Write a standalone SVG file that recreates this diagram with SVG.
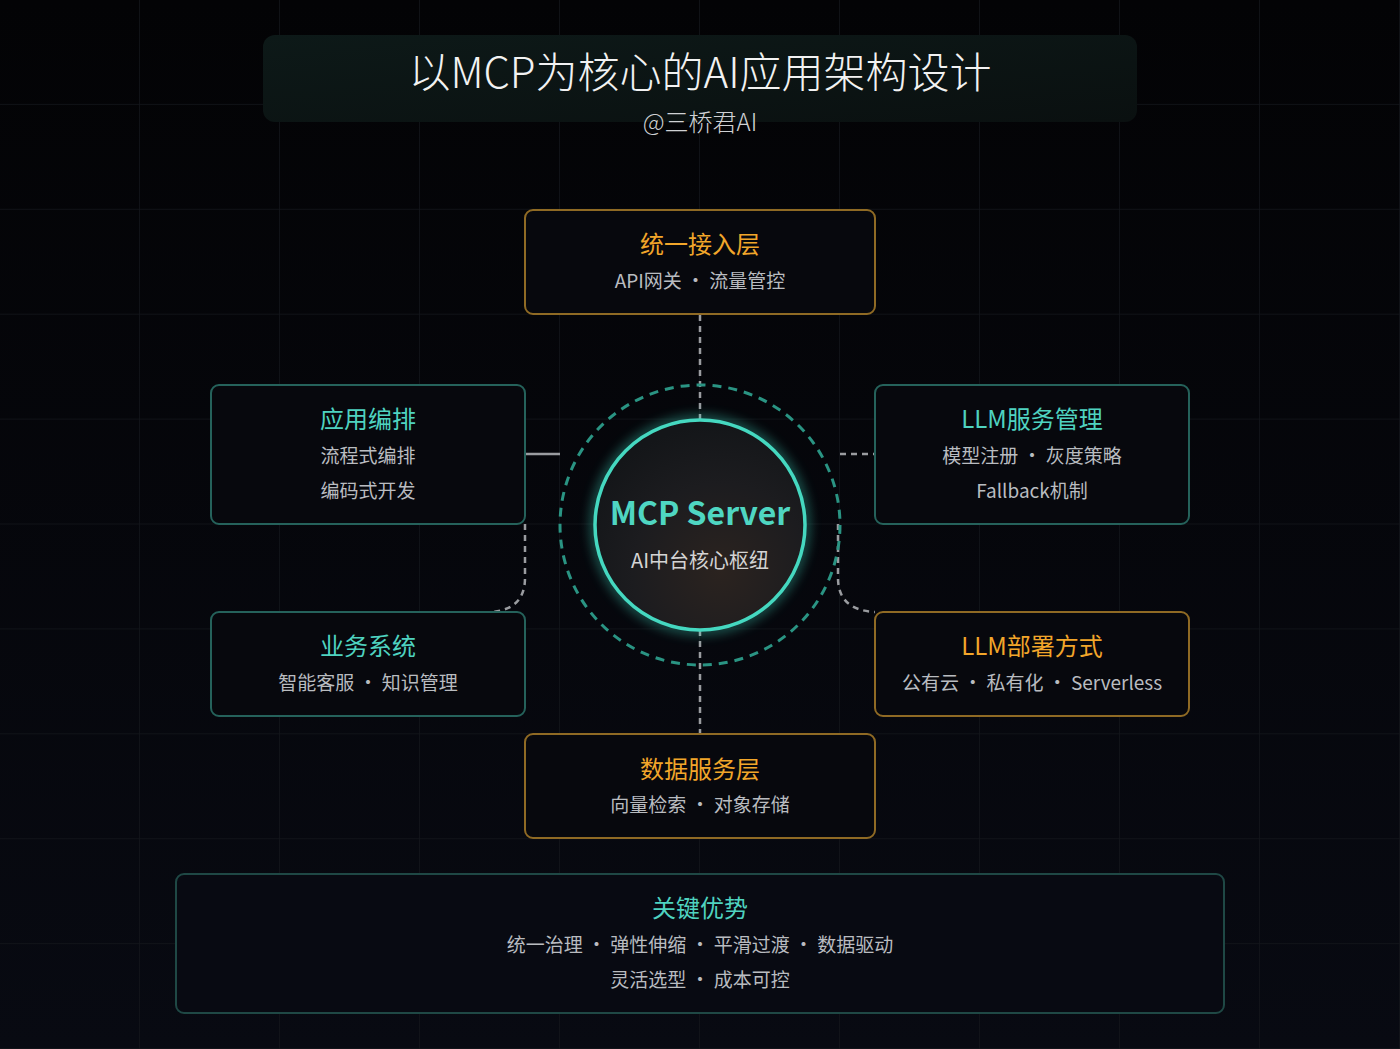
<svg xmlns="http://www.w3.org/2000/svg" width="1400" height="1049" viewBox="0 0 1400 1049">
<defs>
<linearGradient id="bg" x1="0" y1="0" x2="0" y2="1">
<stop offset="0" stop-color="#030305"/>
<stop offset="1" stop-color="#080a12"/>
</linearGradient>
<linearGradient id="titleBg" x1="0" y1="0" x2="1" y2="1">
<stop offset="0" stop-color="#0d1918"/>
<stop offset="1" stop-color="#0a1010"/>
</linearGradient>
<radialGradient id="core" cx="0.6" cy="0.72" r="0.7">
<stop offset="0" stop-color="#2b231f"/>
<stop offset="0.6" stop-color="#1c1c1f"/>
<stop offset="1" stop-color="#141619"/>
</radialGradient>
<filter id="glow" x="-30%" y="-30%" width="160%" height="160%">
<feGaussianBlur stdDeviation="6"/>
</filter>
<pattern id="grid" width="140" height="104.9" patternUnits="userSpaceOnUse">
<path d="M140 0V104.9M0 104.9H140" fill="none" stroke="#14161b" stroke-width="1.5"/>
</pattern>
</defs>
<style>
.cjk{font-family:"Noto Sans CJK SC","Noto Sans",sans-serif;text-anchor:middle}
.h{font-size:24px}
.s{font-size:19px;fill:#b9bcc0}
.or{fill:#f2a62a}
.tl{fill:#4fd3c0}
.boxo{fill:#07080d;stroke:#8f6a24;stroke-width:2}
.boxt{fill:#07080d;stroke:#25625b;stroke-width:2}
.conn{fill:none;stroke:#9a9ca0;stroke-width:2.5}
.dash{stroke-dasharray:6 5}
</style>
<rect width="1400" height="1049" fill="url(#bg)"/>
<rect width="1400" height="1049" fill="url(#grid)"/>

<g id="title">
<rect x="263" y="35" width="874" height="87" rx="12" fill="url(#titleBg)"/>
<text class="cjk" x="700" y="88" font-size="42" font-weight="300" fill="#f2f2f2">以MCP为核心的AI应用架构设计</text>
<text class="cjk" x="700" y="131" font-size="24" font-weight="300" fill="#cfd1d4">@三桥君AI</text>
</g>

<g id="connectors">
<path class="conn dash" d="M700 315V420"/>
<path class="conn dash" d="M700 630V734"/>
<path class="conn" d="M525 454H560"/>
<path class="conn dash" d="M840 454H875"/>
<path class="conn dash" d="M525 524V578Q525 610 490 612"/>
<path class="conn dash" d="M838 524V578Q838 610 875 612"/>
</g>

<g id="core-node">
<circle cx="700" cy="525" r="140" fill="none" stroke="#2a9483" stroke-width="3" stroke-dasharray="9 7"/>
<circle cx="700" cy="525" r="105" fill="none" stroke="#3fd6bd" stroke-width="8" opacity="0.5" filter="url(#glow)"/>
<circle cx="700" cy="525" r="105" fill="url(#core)" stroke="#45d8c0" stroke-width="3.5"/>
<text class="cjk" x="700" y="525" font-size="32" font-weight="700" fill="#4fd6c2">MCP Server</text>
<text class="cjk" x="700" y="568" font-size="20" fill="#d4d4d4">AI中台核心枢纽</text>
</g>

<g id="node-access">
<rect class="boxo" x="525" y="210" width="350" height="104" rx="8"/>
<text class="cjk h or" x="700" y="253">统一接入层</text>
<text class="cjk s" x="700" y="288">API网关 · 流量管控</text>
</g>

<g id="node-orchestration">
<rect class="boxt" x="211" y="385" width="314" height="139" rx="8"/>
<text class="cjk h tl" x="368" y="428">应用编排</text>
<text class="cjk s" x="368" y="463">流程式编排</text>
<text class="cjk s" x="368" y="498">编码式开发</text>
</g>

<g id="node-llm-mgmt">
<rect class="boxt" x="875" y="385" width="314" height="139" rx="8"/>
<text class="cjk h tl" x="1032" y="428">LLM服务管理</text>
<text class="cjk s" x="1032" y="463">模型注册 · 灰度策略</text>
<text class="cjk s" x="1032" y="498">Fallback机制</text>
</g>

<g id="node-business">
<rect class="boxt" x="211" y="612" width="314" height="104" rx="8"/>
<text class="cjk h tl" x="368" y="655">业务系统</text>
<text class="cjk s" x="368" y="690">智能客服 · 知识管理</text>
</g>

<g id="node-deploy">
<rect class="boxo" x="875" y="612" width="314" height="104" rx="8"/>
<text class="cjk h or" x="1032" y="655">LLM部署方式</text>
<text class="cjk s" x="1032" y="690">公有云 · 私有化 · Serverless</text>
</g>

<g id="node-data">
<rect class="boxo" x="525" y="734" width="350" height="104" rx="8"/>
<text class="cjk h or" x="700" y="778">数据服务层</text>
<text class="cjk s" x="700" y="812">向量检索 · 对象存储</text>
</g>

<g id="node-advantages">
<rect x="176" y="874" width="1048" height="139" rx="8" fill="#080a12" stroke="#1f4845" stroke-width="2"/>
<text class="cjk h tl" x="700" y="917">关键优势</text>
<text class="cjk s" x="700" y="952">统一治理 · 弹性伸缩 · 平滑过渡 · 数据驱动</text>
<text class="cjk s" x="700" y="987">灵活选型 · 成本可控</text>
</g>
</svg>
